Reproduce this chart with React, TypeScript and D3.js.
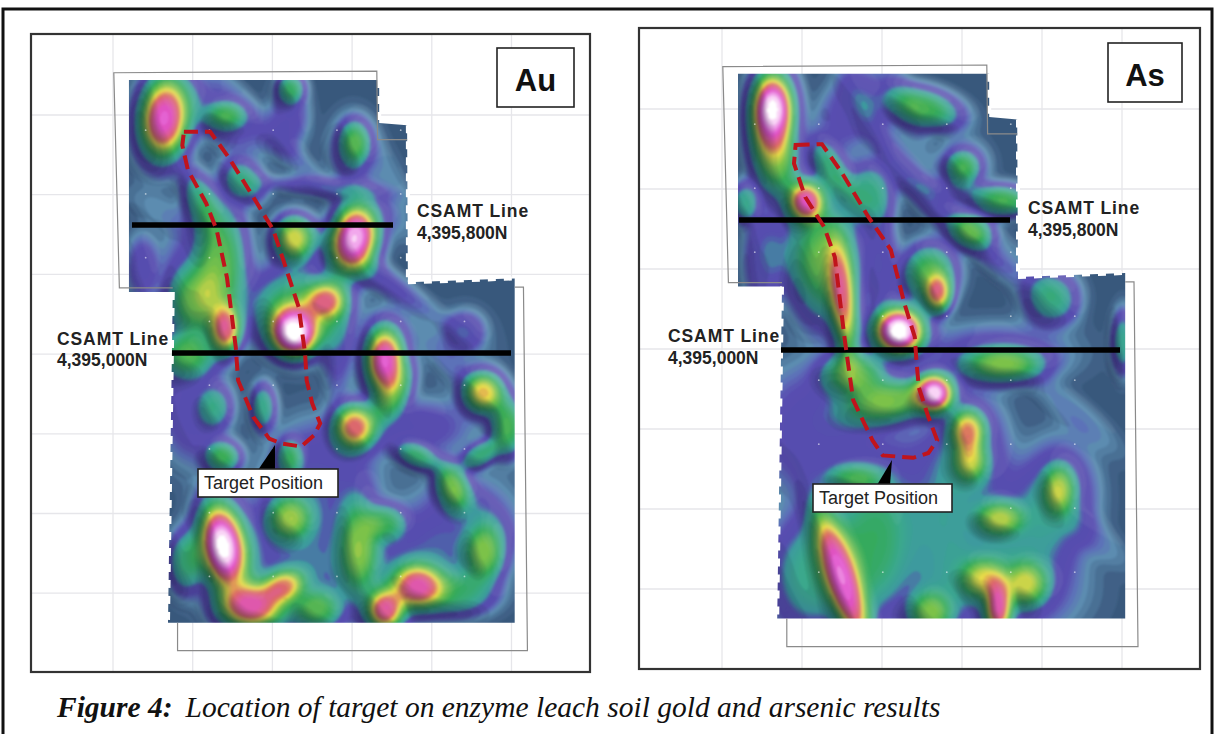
import React, { useEffect, useRef } from 'react';
import * as d3 from 'd3';

type Anomaly = [number, number, number, number, number, number];
type Pt = [number, number];

// everything below is in grid cells: east, north (down), one cell = one grid square
const gridEast = [0, 1, 2, 3, 4, 5];
const gridNorth = [0, 1, 2, 3, 4, 5, 6];

// east, north, spread along, spread across, tilt in degrees, peak
const goldAnomalies: Anomaly[] = [
  [0.63, 0.03, 0.28, 0.46, 5, 0.92], [1.4, 0, 0.2, 0.14, 0, 0.44], [2.22, -0.35, 0.14, 0.15, 0, 0.44],
  [3.02, 0.34, 0.15, 0.22, 0, 0.48], [1.63, 0.81, 0.24, 0.18, 45, 0.42], [1.08, 1.06, 0.16, 0.32, -20, 0.42],
  [2.26, 1.54, 0.22, 0.24, 0, 0.72], [3.02, 1.53, 0.26, 0.38, 10, 0.98], [1.35, 1.85, 0.26, 0.65, 0, 0.56],
  [1.4, 2.68, 0.16, 0.26, 0, 0.8], [1.0, 2.35, 0.26, 0.36, 0, 0.52], [0.9, 3.0, 0.3, 0.22, 0, 0.52],
  [2.26, 2.7, 0.26, 0.28, 0, 1.05], [2.65, 2.32, 0.2, 0.18, 0, 0.7], [2.3, 2.4, 0.5, 0.42, 0, 0.5],
  [3.4, 3.07, 0.22, 0.38, 0, 0.92], [1.87, 3.65, 0.13, 0.24, 0, 0.42], [1.28, 3.65, 0.16, 0.2, 0, 0.3],
  [3.02, 3.9, 0.22, 0.24, 0, 0.8], [3.5, 3.5, 0.16, 0.32, 30, 0.44], [4.64, 3.47, 0.22, 0.22, 0, 0.74],
  [4.94, 3.9, 0.18, 0.3, 0, 0.56], [1.37, 4.28, 0.18, 0.16, 0, 0.52], [2.2, 4.28, 0.12, 0.18, 0, 0.4],
  [4.24, 4.65, 0.16, 0.26, -20, 0.56], [3.81, 4.28, 0.22, 0.12, 20, 0.44], [4.6, 4.25, 0.22, 0.12, -30, 0.44],
  [1.37, 5.4, 0.26, 0.5, -10, 1.02], [2.2, 5.05, 0.22, 0.22, 0, 0.56], [1.72, 6.15, 0.36, 0.25, 0, 0.86],
  [2.13, 5.9, 0.22, 0.16, -20, 0.7], [3.07, 5.4, 0.2, 0.48, 0, 0.56], [3.4, 5.1, 0.2, 0.18, 0, 0.44],
  [3.8, 5.9, 0.28, 0.24, 0, 0.84], [3.4, 6.2, 0.2, 0.22, 0, 0.84], [4.65, 5.48, 0.2, 0.3, 0, 0.56],
  [2.55, 6.2, 0.24, 0.2, 0, 0.5], [0.9, 5.6, 0.18, 0.32, 0, 0.46], [4.3, 6, 0.38, 0.22, 0, 0.42],
];

// purple flats and the slate streaks that run north-west to south-east
const goldBackground: Anomaly[] = [
  [2.6, 4.5, 0.55, 0.55, 0, 0.26], [1.0, 3.7, 0.35, 0.55, 0, 0.24], [3.8, 3.9, 0.55, 0.28, 0, 0.22],
  [4.4, 5.2, 0.55, 0.55, 0, 0.24], [3.3, 5.7, 0.8, 0.55, 0, 0.24], [2.1, 5.6, 0.55, 0.7, 0, 0.24],
  [1.3, 0.0, 0.55, 0.24, 40, 0.22], [2.2, 0.0, 0.2, 0.34, 0, 0.22], [3.0, 0.4, 0.24, 0.34, 0, 0.22],
  [2.6, 0.9, 0.6, 0.1, 5, 0.22], [1.0, 2.0, 0.35, 0.55, 0, 0.2], [0.35, 1.9, 0.16, 0.34, 0, 0.22],
  [4.4, 2.7, 0.2, 0.2, 0, 0.24], [3.3, 2.0, 0.75, 0.14, 35, 0.2], [2.8, 2.7, 0.16, 0.65, 0, 0.24],
  [4.1, 3.0, 0.6, 0.14, 45, 0.08], [1.6, -0.2, 0.9, 0.12, 45, 0.09], [2.3, 0.6, 0.8, 0.12, 40, 0.08],
  [3.2, 1.0, 0.5, 0.14, 50, 0.08], [0.6, 1.2, 0.4, 0.16, 30, 0.08], [3.5, 0.9, 0.5, 0.16, 70, 0.08],
  [4.6, 4.9, 0.5, 0.14, 45, 0.09], [4.4, 3.0, 0.35, 0.45, 0, 0.06],
];

const arsenicAnomalies: Anomaly[] = [
  [0.62, 0, 0.24, 0.42, 0, 1.02], [0.65, 0.6, 0.24, 0.42, -10, 0.62], [2.5, -0.03, 0.4, 0.2, 15, 0.56],
  [3.0, 0.72, 0.16, 0.16, 0, 0.44], [1.04, 1.14, 0.2, 0.22, 0, 0.88], [1.83, 1.05, 0.24, 0.32, 0, 0.44],
  [1.36, 0.76, 0.16, 0.34, -30, 0.44], [0.27, 1.16, 0.14, 0.2, 0, 0.4], [3.5, 1.14, 0.27, 0.17, 0, 0.44],
  [3.11, 1.51, 0.22, 0.17, 20, 0.52], [1.5, 2.4, 0.14, 0.62, -6, 0.74], [1.3, 1.95, 0.36, 0.6, 0, 0.56],
  [2.58, 2.05, 0.27, 0.3, 0, 0.58], [2.69, 2.3, 0.14, 0.2, 0, 0.72], [2.2, 2.76, 0.28, 0.26, 0, 1.04],
  [4.11, 2.35, 0.27, 0.27, 0, 0.42], [3.5, 3.18, 0.4, 0.18, 0, 0.56], [2.64, 3.54, 0.2, 0.2, 0, 1.0],
  [2.11, 3.64, 0.47, 0.22, -10, 0.62], [1.64, 3.3, 0.32, 0.22, 0, 0.56], [3.06, 4.01, 0.18, 0.22, 0, 0.72],
  [3.09, 4.39, 0.17, 0.2, 0, 0.56], [4.2, 4.74, 0.16, 0.24, 0, 0.56], [3.46, 5.11, 0.24, 0.17, 0, 0.58],
  [1.5, 5.9, 0.18, 0.8, -18, 0.88], [1.85, 5.5, 0.42, 0.7, 0, 0.5], [1.1, 5.8, 0.42, 0.6, 0, 0.42],
  [3.44, 6.22, 0.14, 0.3, 0, 0.84], [3.79, 5.93, 0.22, 0.22, 0, 0.58], [3.25, 5.87, 0.22, 0.2, 0, 0.58],
  [2.58, 6.3, 0.22, 0.22, 0, 0.54], [1.64, 4.6, 0.27, 0.13, 0, 0.4], [5.0, 2.9, 0.12, 0.32, 0, 0.4],
];

const arsenicBackground: Anomaly[] = [
  [1.2, 4.0, 0.65, 0.65, 0, 0.26], [2.5, 4.7, 0.55, 0.55, 0, 0.22], [3.6, 5.3, 0.6, 0.6, 0, 0.26],
  [4.2, 4.8, 0.38, 0.55, 0, 0.28], [3.5, 6.0, 0.75, 0.5, 0, 0.24], [3.1, 4.2, 0.38, 0.55, 0, 0.26],
  [2.7, 5.7, 0.32, 0.75, 0, 0.24], [1.6, 0, 0.3, 0.5, 30, 0.22], [2.2, 0.6, 0.9, 0.14, 60, 0.12],
  [3.0, 0.7, 0.26, 0.26, 0, 0.22], [3.4, 1.1, 0.65, 0.12, 10, 0.22], [2.9, 1.4, 0.85, 0.14, 45, 0.22],
  [0.5, 1.9, 0.2, 0.5, 0, 0.24], [1.0, 1.7, 0.4, 0.4, 0, 0.2], [3.4, 3.05, 0.75, 0.3, 0, 0.22],
  [2.0, 1.9, 0.16, 0.5, 0, 0.24], [2.3, 0.0, 0.7, 0.14, 70, 0.09], [1.9, 0.3, 0.7, 0.12, 60, 0.08],
  [4.4, 3.8, 0.6, 0.16, 40, 0.1], [4.6, 5.3, 0.5, 0.16, 40, 0.09], [3.8, 2.0, 0.6, 0.14, 45, 0.08],
];

const surveyMap: Pt[] = [
  [0.2, -0.44], [3.34, -0.44], [3.34, 0.1], [3.69, 0.13], [3.7, 2.1], [5.04, 2.05], [5.04, 6.37],
  [0.69, 6.37], [0.75, 2.22], [0.2, 2.22],
];
const surveyEdges: Pt[][] = [
  [[0.75, 2.22], [0.69, 6.37]], [[3.34, -0.44], [3.34, 0.1]], [[3.7, 0.13], [3.7, 2.1]], [[3.7, 2.1], [5.04, 2.05]],
];
const outlineNorth: Pt[] = [[0.75, 2.17], [0.08, 2.17], [0.01, -0.53], [3.31, -0.55], [3.32, 0.31], [3.69, 0.31]];
const outlineSouth: Pt[] = [[5.04, 2.16], [5.15, 2.16], [5.2, 6.72], [0.81, 6.72], [0.81, 6.37]];

const goldTarget: Pt[] = [
  [0.89, 0.21], [1.22, 0.21], [1.45, 0.53], [1.73, 0.98], [2.01, 1.44], [2.15, 1.86], [2.33, 2.41], [2.41, 2.99],
  [2.43, 3.33], [2.5, 3.62], [2.6, 3.87], [2.52, 4.02], [2.36, 4.16], [2.11, 4.12], [1.96, 4.06], [1.76, 3.79],
  [1.57, 3.33], [1.54, 2.91], [1.43, 2.04], [1.3, 1.44], [1.17, 1.11], [0.94, 0.69], [0.87, 0.38],
];
const arsenicTarget: Pt[] = [
  [0.92, 0.45], [1.25, 0.44], [1.5, 0.8], [1.83, 1.35], [2.11, 1.76], [2.28, 2.43], [2.41, 2.85], [2.43, 3.14],
  [2.46, 3.48], [2.58, 3.85], [2.69, 4.14], [2.58, 4.3], [2.39, 4.36], [2.01, 4.33], [1.88, 4.14], [1.64, 3.64],
  [1.57, 3.14], [1.53, 2.85], [1.41, 1.85], [1.28, 1.48], [1.04, 1.1], [0.9, 0.68],
];

const rampStops = [0, 0.06, 0.12, 0.16, 0.21, 0.31, 0.36, 0.44, 0.55, 0.66, 0.74, 0.81, 0.91, 0.96, 1];
const rampColors = ['#2c4866', '#3f6186', '#5c8cb0', '#5b72b8', '#5a4db0', '#544fae', '#3c9a9e', '#3aa88c', '#35aa58', '#7cc24a', '#e6da48', '#dc6a62', '#e050cc', '#f2a8ec', '#ffffff'];

const sampleEast = [0.41, 1.21, 2.01, 2.81, 3.61, 4.41];
const sampleNorth = [0.19, 0.99, 1.79, 2.59, 3.39, 4.19, 4.99, 5.79];

const panels = [
  {
    id: 'au', title: 'Au', anomalies: goldAnomalies, background: goldBackground, target: goldTarget,
    x0: 113, y0: 115, unit: 79.7,
    frame: [31, 34, 590, 672], box: [497, 48, 574, 107], titleY: 91,
    lineN: [132, 393, 225], lineS: [172, 511, 353],
    labelN: [417, 217, 239], labelS: [57, 345, 366],
    callout: [198, 469, 338, 497], pointer: [275, 445, 258, 275, 470],
  },
  {
    id: 'as', title: 'As', anomalies: arsenicAnomalies, background: arsenicBackground, target: arsenicTarget,
    x0: 722, y0: 109, unit: 80,
    frame: [639, 28, 1200, 669], box: [1108, 43, 1182, 102], titleY: 86,
    lineN: [739, 1010, 220], lineS: [781, 1120, 350],
    labelN: [1028, 214, 236], labelS: [668, 342, 364],
    callout: [813, 484, 952, 512], pointer: [892, 460, 877, 890, 485],
  },
];

const cols = 230;
const rows = 300;
const eastMin = -0.4;
const eastMax = 5.3;
const northMin = -0.7;
const northMax = 6.7;

function fieldOf(list: Anomaly[]) {
  const toEast = d3.scaleLinear().domain([0, cols - 1]).range([eastMin, eastMax]);
  const toNorth = d3.scaleLinear().domain([0, rows - 1]).range([northMin, northMax]);
  const values = new Float64Array(cols * rows);
  for (let j = 0; j < rows; j++) {
    for (let i = 0; i < cols; i++) {
      const e = toEast(i);
      const n = toNorth(j);
      let keep = 1 - 0.05;
      for (const [ae, an, sa, sb, tilt, peak] of list) {
        const t = (tilt * Math.PI) / 180;
        const a = (e - ae) * Math.cos(t) + (n - an) * Math.sin(t);
        const b = -(e - ae) * Math.sin(t) + (n - an) * Math.cos(t);
        const q = (a * a) / (sa * sa) + (b * b) / (sb * sb);
        keep *= 1 - Math.min(1, peak * Math.exp(-0.5 * Math.pow(q, 1.4)));
      }
      values[j * cols + i] = 1 - keep;
    }
  }
  return values;
}

// light comes from the north-east, the same as the shaded relief in the source maps
function reliefOf(values: Float64Array) {
  const out = new Float64Array(cols * rows);
  for (let j = 1; j < rows - 1; j++) {
    for (let i = 1; i < cols - 1; i++) {
      out[j * cols + i] = (values[(j - 1) * cols + i + 1] - values[(j + 1) * cols + i - 1]) * 12;
    }
  }
  return out;
}

const App: React.FC = () => {
  const svgRef = useRef<SVGSVGElement>(null);

  useEffect(() => {
    if (!svgRef.current) return;
    const svg = d3.select(svgRef.current);
    svg.selectAll('*').remove();

    const ramp = d3.scaleLinear<string>().domain(rampStops).range(rampColors).interpolate(d3.interpolateRgb);
    const bands = d3.range(0, 1.001, 0.02);
    const defs = svg.append('defs');
    defs.append('filter').attr('id', 'soft').append('feGaussianBlur').attr('stdDeviation', 1);

    svg.append('rect').attr('x', 3).attr('y', 9).attr('width', 1209).attr('height', 730)
      .attr('fill', 'white').attr('stroke', '#111').attr('stroke-width', 3);

    panels.forEach(p => {
      const x = d3.scaleLinear().domain([0, 5]).range([p.x0, p.x0 + 5 * p.unit]);
      const y = d3.scaleLinear().domain([0, 5]).range([p.y0, p.y0 + 5 * p.unit]);
      const colX = d3.scaleLinear().domain([0, cols - 1]).range([x(eastMin), x(eastMax)]);
      const rowY = d3.scaleLinear().domain([0, rows - 1]).range([y(northMin), y(northMax)]);
      const line = d3.line<Pt>().x(d => x(d[0])).y(d => y(d[1]));
      const [fx0, fy0, fx1, fy1] = p.frame;

      const g = svg.append('g');
      defs.append('clipPath').attr('id', `map-${p.id}`).append('path').attr('d', line(surveyMap) + 'Z');

      g.selectAll('.ge').data(gridEast).enter().append('line')
        .attr('x1', d => x(d)).attr('x2', d => x(d)).attr('y1', fy0).attr('y2', fy1)
        .attr('stroke', '#e6e6ea').attr('stroke-width', 1.3);
      g.selectAll('.gn').data(gridNorth).enter().append('line')
        .attr('x1', fx0).attr('x2', fx1).attr('y1', d => y(d)).attr('y2', d => y(d))
        .attr('stroke', '#e6e6ea').attr('stroke-width', 1.3);

      const values = fieldOf([...p.background, ...p.anomalies]);
      const relief = reliefOf(values);
      const path = d3.geoPath(d3.geoTransform({
        point(px, py) { this.stream.point(colX(px), rowY(py)); },
      }));

      const map = g.append('g').attr('clip-path', `url(#map-${p.id})`).append('g').attr('filter', 'url(#soft)');
      const contours = d3.contours().size([cols, rows]).smooth(true);

      map.append('rect').attr('x', x(eastMin)).attr('y', y(northMin))
        .attr('width', x(eastMax) - x(eastMin)).attr('height', y(northMax) - y(northMin)).attr('fill', ramp(0.05));
      map.selectAll('.band').data(contours.thresholds(bands)(values as unknown as number[])).enter().append('path')
        .attr('d', d => path(d)).attr('fill', d => ramp(d.value));

      // relief: dark on the slopes turned away from the light, pale on those facing it
      const darkSteps = [0.2, 0.4, 0.6, 0.9, 1.3, 1.8];
      map.selectAll('.dark').data(contours.thresholds(darkSteps)(relief as unknown as number[])).enter().append('path')
        .attr('d', d => path(d)).attr('fill', '#101030').attr('fill-opacity', 0.1);
      const litSteps = [0.3, 0.6, 1, 1.5, 2];
      const lit = Float64Array.from(relief, v => -v);
      map.selectAll('.lit').data(contours.thresholds(litSteps)(lit as unknown as number[])).enter().append('path')
        .attr('d', d => path(d)).attr('fill', 'white').attr('fill-opacity', 0.05);

      const dots = sampleEast.flatMap(e => sampleNorth.map(n => [e, n] as Pt));
      g.append('g').attr('clip-path', `url(#map-${p.id})`).selectAll('circle').data(dots).enter().append('circle')
        .attr('cx', d => x(d[0])).attr('cy', d => y(d[1])).attr('r', 0.9).attr('fill', 'white').attr('fill-opacity', 0.55);

      surveyEdges.forEach(edge => {
        g.append('path').attr('d', line(edge)).attr('fill', 'none').attr('stroke', 'white')
          .attr('stroke-width', 4).attr('stroke-dasharray', '8 8');
      });

      [outlineNorth, outlineSouth].forEach(outline => {
        g.append('path').attr('d', line(outline)).attr('fill', 'none').attr('stroke', '#8a8a8a').attr('stroke-width', 1.2);
      });

      g.append('rect').attr('x', fx0).attr('y', fy0).attr('width', fx1 - fx0).attr('height', fy1 - fy0)
        .attr('fill', 'none').attr('stroke', '#333').attr('stroke-width', 2.2);

      const [bx0, by0, bx1, by1] = p.box;
      g.append('rect').attr('x', bx0).attr('y', by0).attr('width', bx1 - bx0).attr('height', by1 - by0)
        .attr('fill', 'white').attr('stroke', '#222').attr('stroke-width', 1.6);
      g.append('text').attr('x', (bx0 + bx1) / 2).attr('y', p.titleY).attr('text-anchor', 'middle')
        .style('font-family', '"Liberation Sans", Arial, sans-serif').style('font-weight', 700).style('font-size', '31px')
        .attr('fill', '#111').text(p.title);

      [p.lineN, p.lineS].forEach(([a, b, ly]) => {
        g.append('line').attr('x1', a).attr('x2', b).attr('y1', ly).attr('y2', ly)
          .attr('stroke', 'black').attr('stroke-width', 5.5);
      });

      g.append('path').attr('d', line(p.target) + 'Z').attr('fill', 'none').attr('stroke', '#c0141c')
        .attr('stroke-width', 4).attr('stroke-dasharray', '14 7');

      const [tx, ty, bl, br, by] = p.pointer;
      g.append('path').attr('d', `M${tx},${ty}L${bl},${by}L${br},${by}Z`).attr('fill', 'black');
      const [cx0, cy0, cx1, cy1] = p.callout;
      g.append('rect').attr('x', cx0).attr('y', cy0).attr('width', cx1 - cx0).attr('height', cy1 - cy0)
        .attr('fill', 'white').attr('stroke', '#222').attr('stroke-width', 1.6);
      g.append('text').attr('x', cx0 + 6).attr('y', (cy0 + cy1) / 2 + 6)
        .style('font-family', '"Liberation Sans", Arial, sans-serif').style('font-size', '18px')
        .attr('fill', '#222').text('Target Position');

      [[p.labelN, '4,395,800N'], [p.labelS, '4,395,000N']].forEach(([pos, name]) => {
        const [lx, l1, l2] = pos as number[];
        const t = g.append('g').attr('fill', '#222')
          .style('font-family', '"Liberation Sans", Arial, sans-serif').style('font-weight', 700).style('font-size', '17.5px');
        t.append('text').attr('x', lx).attr('y', l1).style('letter-spacing', '0.9px').text('CSAMT Line');
        t.append('text').attr('x', lx).attr('y', l2).text(name as string);
      });
    });

    const caption = svg.append('text').attr('x', 57).attr('y', 717)
      .style('font-family', '"Liberation Serif", "Times New Roman", serif').style('font-size', '29.5px')
      .style('font-style', 'italic').attr('fill', '#111');
    caption.append('tspan').style('font-weight', 700).text('Figure 4:');
    caption.append('tspan').attr('dx', 13).text('Location of target on enzyme leach soil gold and arsenic results');
  }, []);

  return (
    <svg
      ref={svgRef}
      width={1215}
      height={734}
      viewBox="0 0 1215 734"
      style={{ position: 'absolute', left: 0, top: 0, background: 'white' }}
      role="img"
      aria-label="Enzyme leach soil gold and arsenic maps with target position"
    />
  );
};

export default App;
